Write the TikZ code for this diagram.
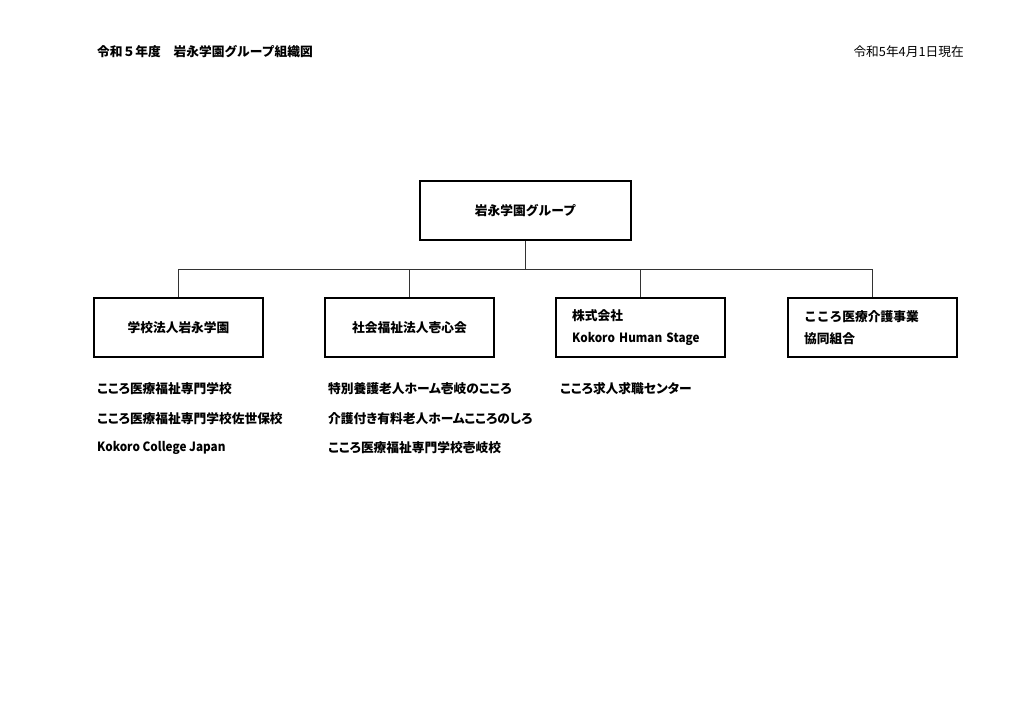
\documentclass[tikz,border=0pt]{standalone}
\usepackage{fontspec}
\setmainfont{Noto Sans CJK JP}
\newfontfamily\jpp{Noto Sans CJK JP}[RawFeature=+palt]
\newfontfamily\latnfont{Noto Sans CJK JP}[FakeStretch=0.92]
\newcommand{\latn}[1]{{\latnfont\bfseries #1}}
\begin{document}
\begin{tikzpicture}[x=0.29mm,y=-0.29mm,font=\fontsize{10.5}{18}\selectfont\bfseries,
        org/.style={draw=black,line width=1.5pt,minimum width=49mm,minimum height=17.1mm,inner sep=0pt},
        orgtext/.style={org,align=left,text width=39.6mm,inner xsep=4.65mm},
        link/.style={draw=black!80,line width=.6pt},
        item/.style={anchor=west,inner sep=0pt,font=\fontsize{10.5}{18}\selectfont\jpp\bfseries}]
    \useasboundingbox (0,0) rectangle (1024,724);
    \node[anchor=west,inner sep=0pt] (title) at (97,52) {令和５年度　岩永学園グループ組織図};
    \node[anchor=east,inner sep=0pt,font=\fontsize{10.5}{18}\selectfont\mdseries] (date) at (964,52) {令和5年4月1日現在};
    % group and members
    \node[org,minimum width=61.2mm] (group) at (525.5,210.5) {岩永学園グループ};
    \node[org] (school) at (178.5,327.5) {学校法人岩永学園};
    \node[org] (welfare) at (409.5,327.5) {社会福祉法人壱心会};
    \node[orgtext] (company) at (640.5,327.5) {株式会社\\\latn{Kokoro Human Stage}};
    \node[orgtext] (coop) at (872.5,327.5) {こころ医療介護事業\\協同組合};
    \coordinate (busL) at (178.5,269);
    \coordinate (busR) at (872.5,269);
    \draw[link] (group.south) -- (group.south |- busL);
    \draw[link] (busL) -- (busR);
    \foreach \n in {school,welfare,company,coop}
        \draw[link] (\n.north) -- (\n.north |- busL);
    % facilities
    \node[item] (s1) at (97,389) {こころ医療福祉専門学校};
    \node[item] (s2) at (97,418.5) {こころ医療福祉専門学校佐世保校};
    \node[item] (s3) at (97,448) {\latn{Kokoro College Japan}};
    \node[item] (w1) at (328,389) {特別養護老人ホーム壱岐のこころ};
    \node[item] (w2) at (328,418.5) {介護付き有料老人ホームこころのしろ};
    \node[item] (w3) at (328,448) {こころ医療福祉専門学校壱岐校};
    \node[item] (c1) at (560,389) {こころ求人求職センター};
\end{tikzpicture}
\end{document}
